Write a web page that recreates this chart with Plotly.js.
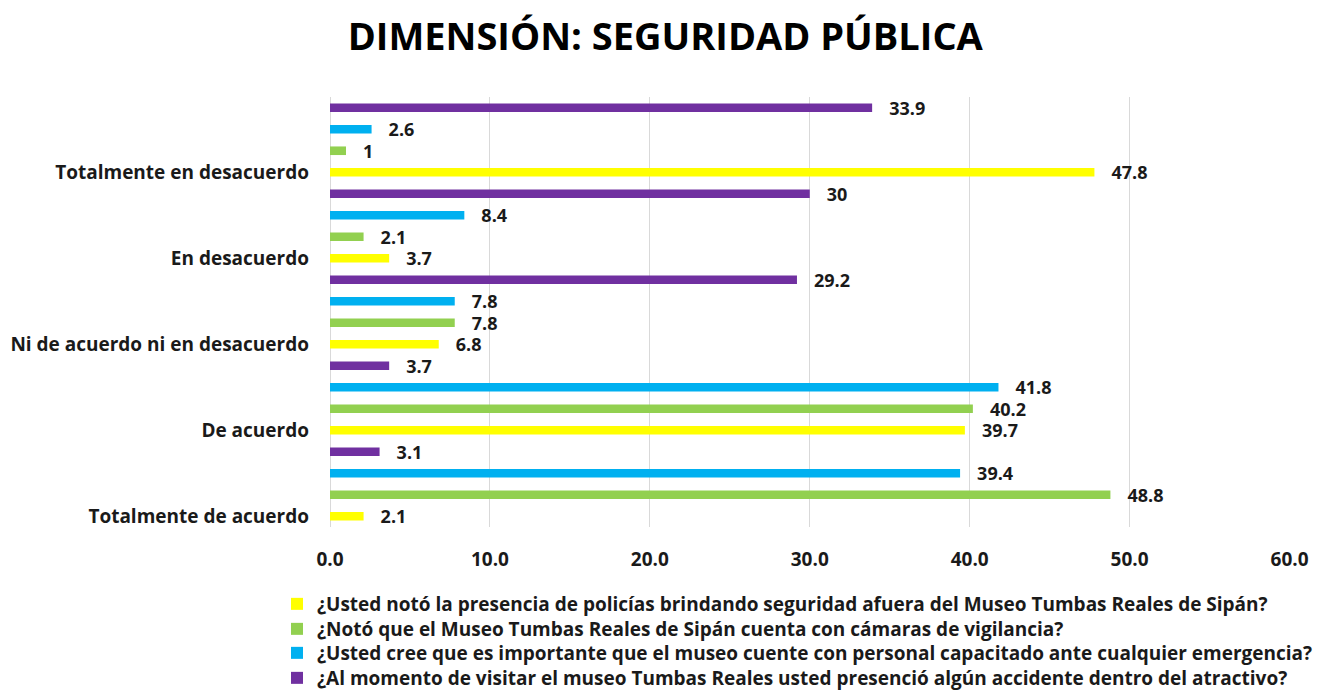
<!DOCTYPE html>
<html>
<head>
<meta charset="utf-8">
<script src="https://cdn.plot.ly/plotly-3.0.1.min.js"></script>
<style>html,body{margin:0;padding:0;background:#fff;}#chart{width:1320px;height:693px;}</style>
</head>
<body>
<div id="chart"></div>
<script>
// Categories, bottom to top
const categories = ["Totalmente de acuerdo", "De acuerdo", "Ni de acuerdo ni en desacuerdo", "En desacuerdo", "Totalmente en desacuerdo"];
const seriesNames = [
  "¿Usted notó la presencia de policías brindando seguridad afuera del Museo Tumbas Reales de Sipán?",
  "¿Notó que el Museo Tumbas Reales de Sipán cuenta con cámaras de vigilancia?",
  "¿Usted cree que es importante que el museo cuente con personal capacitado ante cualquier emergencia?",
  "¿Al momento de visitar el museo Tumbas Reales usted presenció algún accidente dentro del atractivo?"
];
const policias = [2.1, 39.7, 6.8, 3.7, 47.8];
const camaras = [48.8, 40.2, 7.8, 2.1, 1];
const personal = [39.4, 41.8, 7.8, 8.4, 2.6];
const accidente = [3.1, 3.7, 29.2, 30, 33.9];
const xTicks = [0, 10, 20, 30, 40, 50, 60];
const xTickText = ["0.0", "10.0", "20.0", "30.0", "40.0", "50.0", "60.0"];

const seriesValues = [policias, camaras, personal, accidente];
const colors = ["#FFFF00", "#92D050", "#00B0F0", "#7030A0"];
const FONT = "Open Sans, sans-serif";
const barW = 0.1;
const slot = 0.25;
const legendIds = ["legend", "legend2", "legend3", "legend4"];
const legendRowY = [604, 629, 653, 678];

const traces = seriesValues.map((vals, i) => ({
  type: "bar",
  orientation: "h",
  name: seriesNames[i],
  legend: legendIds[i],
  y: categories,
  x: vals,
  width: barW,
  offset: i * slot - barW / 2,
  marker: {color: colors[i], line: {width: 0}},
  text: vals.map(v => "\u00a0\u00a0\u00a0" + v),
  textposition: "outside",
  constraintext: "none",
  cliponaxis: false,
  textfont: {family: FONT, size: 18, color: "#1a1a1a", weight: "bold"},
  hoverinfo: "x+name"
}));

const layout = {
  width: 1320,
  height: 693,
  paper_bgcolor: "#ffffff",
  plot_bgcolor: "#ffffff",
  margin: {l: 330, r: 30, t: 97, b: 166, autoexpand: false},
  barmode: "overlay",
  showlegend: true,
  title: {
    text: "<b>DIMENSIÓN: SEGURIDAD PÚBLICA</b>",
    font: {family: FONT, size: 38, color: "#000000"},
    xref: "container", x: 0.504, xanchor: "center",
    yref: "container", y: 1 - 37 / 693, yanchor: "middle"
  },
  xaxis: {
    range: [0, 60.03],
    tickvals: xTicks,
    ticktext: xTickText,
    showgrid: true,
    gridcolor: "#d9d9d9",
    gridwidth: 1,
    zeroline: true,
    zerolinecolor: "#d9d9d9",
    zerolinewidth: 1,
    showline: false,
    ticks: "",
    ticklabelstandoff: 19,
    tickfont: {family: FONT, size: 19, color: "#1a1a1a", weight: "bold"},
    fixedrange: true
  },
  yaxis: {
    type: "category",
    categoryorder: "array",
    categoryarray: categories,
    range: [-0.125, 4.875],
    showgrid: false,
    zeroline: false,
    showline: false,
    ticks: "",
    ticklabelstandoff: 20,
    tickfont: {family: FONT, size: 19, color: "#1a1a1a", weight: "bold"},
    fixedrange: true
  }
};

legendIds.forEach((id, i) => {
  layout[id] = {
    xref: "container", x: 277 / 1320, xanchor: "left",
    yref: "container", y: 1 - legendRowY[i] / 693, yanchor: "middle",
    font: {family: FONT, size: 19, color: "#1a1a1a", weight: "bold"},
    bgcolor: "rgba(0,0,0,0)"
  };
});

Plotly.newPlot("chart", traces, layout, {displayModeBar: false, staticPlot: true});
</script>
</body>
</html>
